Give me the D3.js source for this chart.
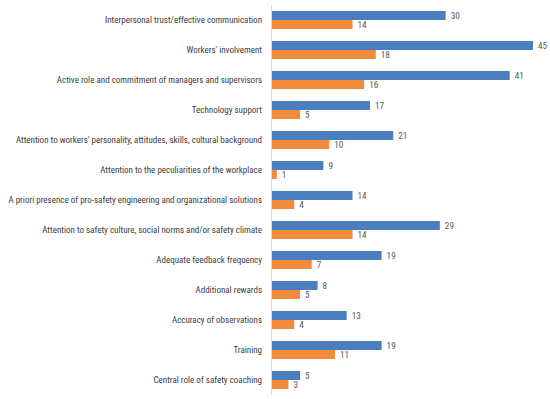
<!DOCTYPE html>
<html><head><meta charset="utf-8">
<script src="https://cdn.jsdelivr.net/npm/d3@7"></script>
<style>body{margin:0;background:#fff}svg{display:block}</style>
</head><body>
<svg id="chart" width="550" height="399"></svg>
<script>
const categories = [
  "Interpersonal trust/effective communication",
  "Workers' involvement",
  "Active role and commitment of managers and supervisors",
  "Technology support",
  "Attention to workers' personality, attitudes, skills, cultural background",
  "Attention to the peculiarities of the workplace",
  "A priori presence of pro-safety engineering and organizational solutions",
  "Attention to safety culture, social norms and/or safety climate",
  "Adequate feedback frequency",
  "Additional rewards",
  "Accuracy of observations",
  "Training",
  "Central role of safety coaching"
];
const seriesA = [30,45,41,17,21,9,14,29,19,8,13,19,5];
const seriesB = [14,18,16,5,10,1,4,14,7,5,4,11,3];
const seriesNames = ["A","B"];
const colors = ["#4a7ebf","#f38b3c"];

const font = "'Liberation Sans Narrow','Roboto Condensed','Liberation Sans',sans-serif";
const svg = d3.select("#chart");
const x0 = 271, xMax = 533;
const x = d3.scaleLinear().domain([0,45]).range([x0,xMax]);
const y = d3.scaleBand().domain(categories).range([5,395]).paddingInner(0.4).paddingOuter(0.2);
const y1 = d3.scaleBand().domain(seriesNames).range([0,y.bandwidth()]);

const data = categories.map((c,i)=>({c, vals:[seriesA[i],seriesB[i]]}));

const g = svg.append("g");
const groups = g.selectAll("g.cat").data(data).join("g")
  .attr("transform", d=>`translate(0,${y(d.c)})`);
groups.selectAll("rect").data(d=>d.vals.map((v,j)=>({v,j}))).join("rect")
  .attr("x", x(0)).attr("y", d=>y1(seriesNames[d.j]))
  .attr("width", d=>x(d.v)-x(0)).attr("height", y1.bandwidth())
  .attr("fill", d=>colors[d.j]);
groups.selectAll("text.val").data(d=>d.vals.map((v,j)=>({v,j}))).join("text")
  .attr("class","val")
  .attr("x", d=>x(d.v)+5).attr("y", d=>y1(seriesNames[d.j])+y1.bandwidth()/2)
  .attr("dy","0.35em")
  .attr("font-family",font)
  .attr("font-size","9.2px").attr("fill","#595959")
  .text(d=>d.v);

// category axis
const yAxis = d3.axisLeft(y).tickSize(0).tickPadding(9);
const ax = svg.append("g").attr("transform",`translate(${x0},0)`).call(yAxis);
ax.select(".domain").attr("stroke","#d9d9d9").attr("d","M0.5,5V395");
ax.selectAll("text")
  .attr("font-family",font)
  .attr("font-size","9px").attr("fill","#404040");
</script>
</body></html>
